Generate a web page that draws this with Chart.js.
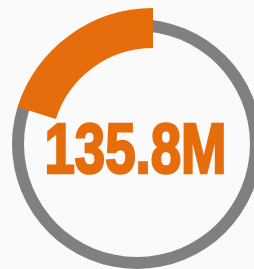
<!DOCTYPE html>
<html>
<head>
<meta charset="utf-8">
<script src="https://cdn.jsdelivr.net/npm/chart.js@4/dist/chart.umd.min.js"></script>
<style>
    html, body { margin: 0; padding: 0; background: #FAFAFA; }
    .wrap { position: relative; width: 254px; height: 269px; overflow: hidden; }
    .wrap canvas { position: absolute; left: 0; top: 0; }
</style>
</head>
<body>
<div class="wrap">
    <canvas id="ringChart" width="254" height="269"></canvas>
    <canvas id="gaugeChart" width="254" height="269"></canvas>
</div>
<script>
const segmentLabels = ['remaining', 'reached'];
const segmentShares = [79.9, 20.1];
const totalValue = 135.8;
const valueUnit = 'M';

const ORANGE = '#E66D0B';
const GRAY = '#808080';

// big number in the middle, stroked a little so it reads heavy like the original
const centerTextPlugin = {
    id: 'centerText',
    afterDraw(chart, args, options) {
        const ctx = chart.ctx;
        ctx.save();
        ctx.font = 'bold 70px "Liberation Sans Narrow", "Arial Narrow", sans-serif';
        ctx.fillStyle = ORANGE;
        ctx.strokeStyle = ORANGE;
        ctx.lineWidth = 2.6;
        ctx.lineJoin = 'miter';
        ctx.textAlign = 'center';
        ctx.textBaseline = 'alphabetic';
        ctx.fillText(options.text, options.x, options.y, options.maxWidth);
        ctx.strokeText(options.text, options.x, options.y, options.maxWidth);
        ctx.restore();
    }
};

const commonOptions = {
    responsive: false,
    animation: false,
    events: [],
    plugins: {
        legend: { display: false },
        tooltip: { enabled: false }
    }
};

// thin grey circle behind everything
new Chart(document.getElementById('ringChart'), {
    type: 'doughnut',
    data: {
        labels: ['ring'],
        datasets: [{
            data: [1],
            backgroundColor: [GRAY],
            borderWidth: 0
        }]
    },
    options: {
        ...commonOptions,
        layout: { padding: { left: 20, right: 0, top: 19, bottom: 0 } },
        radius: 125,
        cutout: '90.4%'
    }
});

// thick orange arc, sits a bit off the ring's centre
new Chart(document.getElementById('gaugeChart'), {
    type: 'doughnut',
    data: {
        labels: segmentLabels,
        datasets: [{
            data: segmentShares,
            backgroundColor: ['rgba(0,0,0,0)', ORANGE],
            borderWidth: 0
        }]
    },
    options: {
        ...commonOptions,
        layout: { padding: { left: 52, right: 0, top: 31, bottom: 0 } },
        radius: 142,
        cutout: '71.8%',
        plugins: {
            ...commonOptions.plugins,
            centerText: {
                text: totalValue + valueUnit,
                x: 135.5,
                y: 173,
                maxWidth: 182
            }
        }
    },
    plugins: [centerTextPlugin]
});
</script>
</body>
</html>
